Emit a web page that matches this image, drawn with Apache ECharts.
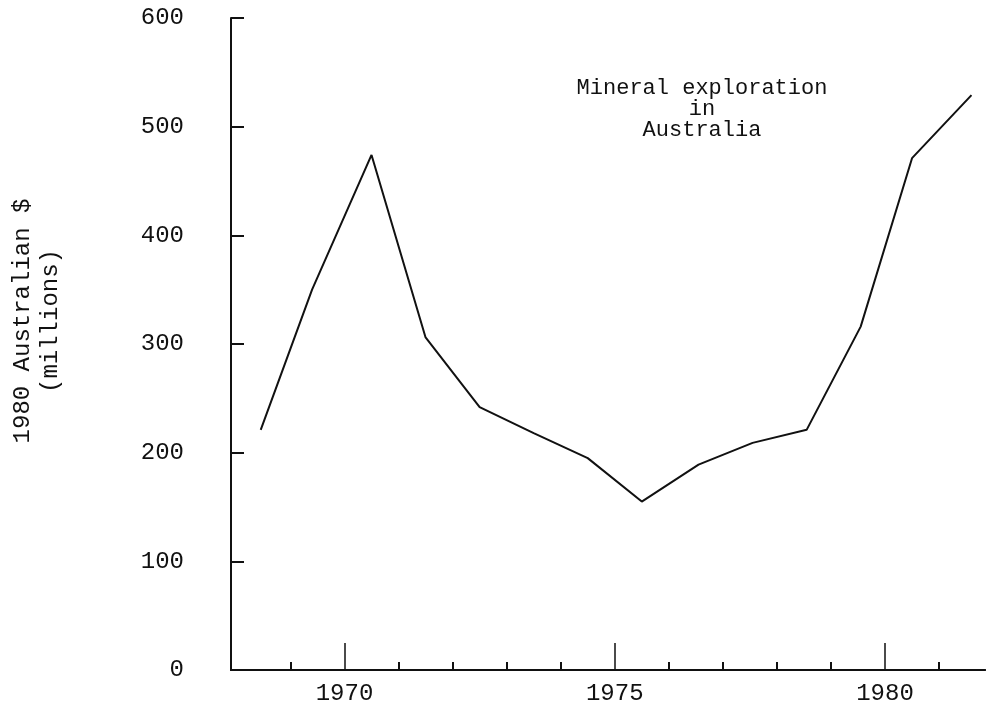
<!DOCTYPE html>
<html>
  <head>
    <meta charset="utf-8" />
    <title>Mineral exploration in Australia</title>
    <style type="text/css">
      html,
      body {
        margin: 0;
        padding: 0;
        background: #fff;
      }
    </style>
    <script src="https://cdn.jsdelivr.net/npm/echarts@6/dist/echarts.min.js"></script>
  </head>
  <body>
    <div id="chart" style="width: 989px; height: 718px"></div>
    <script type="text/javascript">
      // data (mid-year points)
      var years = [1968.45, 1969.4, 1970.5, 1971.5, 1972.5, 1973.5, 1974.5, 1975.5, 1976.55, 1977.55, 1978.55, 1979.55, 1980.5, 1981.6];
      var spending = [221, 350, 474, 306, 242, 218, 195, 155, 189, 209, 221, 316, 471, 529];
      var majorTicks = [1970, 1975, 1980];
      var minorTicks = [1969, 1971, 1972, 1973, 1974, 1976, 1977, 1978, 1979, 1981];

      var font = "'Liberation Mono', 'DejaVu Sans Mono', monospace";
      var ink = "#111";
      var chart = echarts.init(document.getElementById("chart"));

      var xBase = {
        type: "value",
        min: 1967.9,
        max: 1981.85,
        position: "bottom",
        splitLine: { show: false },
        axisLine: { show: true, lineStyle: { color: ink, width: 2 } },
      };

      chart.setOption({
        animation: false,
        backgroundColor: "#fff",
        title: {
          text: "Mineral exploration\nin\nAustralia",
          left: 697,
          top: 73,
          textAlign: "center",
          textStyle: {
            fontFamily: font,
            fontSize: 22,
            lineHeight: 21,
            fontWeight: "normal",
            color: ink,
          },
        },
        grid: { left: 231, right: 4, top: 18, bottom: 48 },
        xAxis: [
          Object.assign({}, xBase, {
            axisTick: {
              inside: true,
              length: 27,
              customValues: majorTicks,
              lineStyle: { color: ink, width: 1.5 },
            },
            axisLabel: {
              customValues: majorTicks,
              margin: 12,
              fontFamily: font,
              fontSize: 24,
              color: ink,
              formatter: function (v) {
                return String(v);
              },
            },
          }),
          Object.assign({}, xBase, {
            axisTick: {
              inside: true,
              length: 8,
              customValues: minorTicks,
              lineStyle: { color: ink, width: 2 },
            },
            axisLabel: { show: false },
          }),
        ],
        yAxis: {
          type: "value",
          min: 0,
          max: 600,
          interval: 100,
          name: "1980 Australian $\n(millions)",
          nameLocation: "middle",
          nameRotate: 90,
          nameGap: 166,
          nameTextStyle: {
            fontFamily: font,
            fontSize: 24,
            lineHeight: 28,
            color: ink,
            padding: [0, 0, 0, 46],
          },
          splitLine: { show: false },
          axisLine: { show: true, lineStyle: { color: ink, width: 2 } },
          axisTick: { inside: true, length: 13, lineStyle: { color: ink, width: 2 } },
          axisLabel: {
            margin: 47,
            fontFamily: font,
            fontSize: 24,
            color: ink,
          },
        },
        series: [
          {
            type: "line",
            xAxisIndex: 0,
            data: years.map(function (y, i) {
              return [y, spending[i]];
            }),
            symbol: "none",
            lineStyle: { color: ink, width: 2 },
          },
        ],
      });
    </script>
  </body>
</html>
